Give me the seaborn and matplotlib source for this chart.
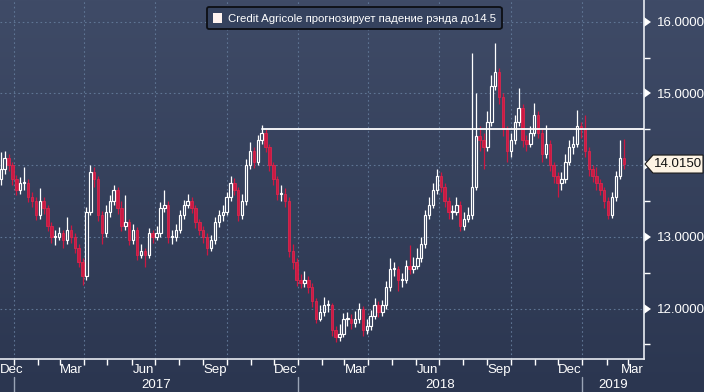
import numpy as np
import pandas as pd
import matplotlib
matplotlib.use("Agg")
import matplotlib.pyplot as plt
import matplotlib.dates as mdates
import seaborn as sns
from matplotlib.patches import Patch, Polygon
from matplotlib.lines import Line2D
from matplotlib.colors import LinearSegmentedColormap
import matplotlib.transforms as mtransforms

# ---------------- data (USD/ZAR, 5-day candles) -------------
start_date = "2016-12-15"
step = "5D"
first_open = 13.80
closes = [
    13.95, 14.10, 14.00, 13.80, 13.65, 13.75, 13.75, 13.55, 13.50, 13.30,
    13.50, 13.40, 13.15, 13.00, 13.00, 13.05, 12.95, 13.10, 13.00, 12.85,
    12.65, 12.45, 13.35, 13.90, 13.80, 13.30, 13.05, 13.35, 13.50, 13.65,
    13.40, 13.15, 13.20, 12.95, 13.10, 12.75, 12.80, 12.75, 13.05, 13.00,
    13.05, 13.40, 13.45, 13.00, 13.00, 13.10, 13.30, 13.45, 13.50, 13.40,
    13.20, 13.10, 13.00, 12.85, 12.95, 13.20, 13.30, 13.35, 13.55, 13.75,
    13.65, 13.30, 13.50, 14.00, 14.20, 14.05, 14.35, 14.45, 14.25, 14.00,
    13.80, 13.60, 13.60, 13.50, 12.80, 12.65, 12.40, 12.35, 12.40, 12.30,
    12.10, 11.85, 11.95, 12.05, 12.05, 11.70, 11.60, 11.65, 11.85, 11.85,
    11.80, 11.85, 12.00, 11.70, 11.75, 11.90, 12.05, 11.95, 12.05, 12.30,
    12.55, 12.55, 12.40, 12.40, 12.60, 12.55, 12.60, 12.70, 12.90, 13.30,
    13.45, 13.65, 13.85, 13.70, 13.50, 13.35, 13.35, 13.45, 13.15, 13.25,
    13.30, 13.70, 14.40, 14.35, 14.25, 14.60, 15.10, 15.30, 14.95, 14.50,
    14.20, 14.35, 14.60, 14.80, 14.35, 14.30, 14.45, 14.70, 14.45, 14.15,
    14.30, 14.00, 13.85, 13.75, 13.80, 14.05, 14.25, 14.30, 14.55, 14.50,
    14.20, 13.95, 13.85, 13.75, 13.65, 13.50, 13.30, 13.55, 13.85, 14.10,
    14.015,
]
highs = [
    14.18, 14.20, 14.16, 14.05, 13.86, 13.84, 13.97, 13.80, 13.62, 13.55,
    13.68, 13.56, 13.45, 13.20, 13.10, 13.14, 13.10, 13.28, 13.16, 13.05,
    12.90, 12.70, 13.42, 14.00, 13.98, 13.85, 13.36, 13.45, 13.58, 13.72,
    13.70, 13.50, 13.58, 13.25, 13.18, 13.14, 12.90, 12.85, 13.12, 13.10,
    13.15, 13.48, 13.65, 13.50, 13.10, 13.18, 13.38, 13.52, 13.60, 13.55,
    13.45, 13.25, 13.15, 13.05, 13.02, 13.28, 13.38, 13.44, 13.63, 13.85,
    13.82, 13.70, 13.60, 14.08, 14.32, 14.25, 14.42, 14.56, 14.50, 14.30,
    14.05, 13.85, 13.72, 13.68, 13.55, 12.90, 12.70, 12.48, 12.52, 12.45,
    12.35, 12.15, 12.05, 12.16, 12.12, 12.08, 11.75, 11.78, 11.94, 11.95,
    11.92, 11.96, 12.08, 12.04, 11.85, 11.98, 12.15, 12.10, 12.12, 12.38,
    12.70, 12.65, 12.60, 12.50, 12.68, 12.88, 12.72, 12.85, 13.00, 13.38,
    13.55, 13.75, 13.95, 13.90, 13.75, 13.55, 13.45, 13.55, 13.50, 13.35,
    13.42, 15.56, 15.00, 14.55, 14.45, 14.75, 15.25, 15.70, 15.35, 15.00,
    14.55, 14.45, 14.70, 15.07, 14.85, 14.42, 14.55, 14.87, 14.75, 14.50,
    14.56, 14.35, 14.05, 13.90, 13.90, 14.15, 14.35, 14.40, 14.77, 14.60,
    14.70, 14.25, 14.00, 13.97, 13.80, 13.70, 13.55, 13.62, 13.92, 14.35,
    14.37,
]
lows = [
    13.72, 13.88, 13.92, 13.72, 13.58, 13.60, 13.66, 13.48, 13.42, 13.24,
    13.25, 13.32, 13.08, 12.92, 12.88, 12.95, 12.85, 12.90, 12.92, 12.78,
    12.58, 12.33, 12.40, 13.30, 13.70, 13.22, 12.90, 13.00, 13.28, 13.45,
    13.32, 13.08, 13.10, 12.88, 12.90, 12.68, 12.70, 12.58, 12.70, 12.92,
    12.95, 13.00, 13.35, 12.92, 12.90, 12.94, 13.05, 13.25, 13.40, 13.33,
    13.12, 13.02, 12.92, 12.75, 12.80, 12.90, 13.14, 13.22, 13.30, 13.50,
    13.58, 13.22, 13.25, 13.45, 13.95, 13.96, 14.00, 14.30, 14.18, 13.92,
    13.72, 13.52, 13.50, 13.42, 12.72, 12.55, 12.32, 12.28, 12.30, 12.22,
    12.02, 11.80, 11.82, 11.90, 11.95, 11.62, 11.53, 11.55, 11.60, 11.76,
    11.72, 11.74, 11.80, 11.62, 11.64, 11.70, 11.86, 11.88, 11.90, 12.00,
    12.25, 12.45, 12.25, 12.30, 12.35, 12.48, 12.50, 12.55, 12.65, 12.85,
    13.25, 13.40, 13.60, 13.62, 13.42, 13.25, 13.25, 13.30, 13.08, 13.10,
    13.20, 13.25, 13.65, 14.20, 13.95, 14.20, 14.55, 15.05, 14.85, 14.40,
    14.04, 14.12, 14.30, 14.55, 14.25, 14.20, 14.25, 14.40, 14.38, 14.05,
    14.10, 13.92, 13.75, 13.55, 13.65, 13.75, 14.00, 14.15, 14.25, 14.38,
    14.12, 13.85, 13.76, 13.65, 13.58, 13.40, 13.25, 13.26, 13.50, 13.80,
    13.95,
]
forecast_level = 14.5
legend_text = "Credit Agricole прогнозирует падение рэнда до14.5"
y_major = [12, 13, 14, 15, 16]
y_minor = [11.5, 12.5, 13.5, 14.5, 15.5]
month_labels = ["Dec", "Mar", "Jun", "Sep", "Dec", "Mar", "Jun", "Sep", "Dec", "Mar"]
month_label_dates = ["2016-12-14", "2017-03-16", "2017-06-16", "2017-09-16",
                     "2017-12-16", "2018-03-16", "2018-06-16", "2018-09-16",
                     "2018-12-16", "2019-03-20"]
year_labels = ["2017", "2018", "2019"]
year_label_dates = ["2017-07-02", "2018-07-02", "2019-02-09"]
year_starts = ["2017-01-01", "2018-01-01", "2019-01-01"]
x_range = ("2016-12-14", "2019-03-21")
y_range = (11.296, 16.303)

assert len(closes) == len(highs) == len(lows)

dates = pd.date_range(start_date, periods=len(closes), freq=step)
opens = [first_open] + closes[:-1]
df = pd.DataFrame({"date": dates, "open": opens, "high": highs,
                   "low": lows, "close": closes})

# ---------------- style ----------------
sns.set_theme(style="dark")
plt.rcParams["font.family"] = ["Liberation Sans", "DejaVu Sans"]

W, H = 704, 392
fig = plt.figure(figsize=(W / 100, H / 100), dpi=100)

# gradient background
bg = fig.add_axes([0, 0, 1, 1], zorder=-10)
cmap = LinearSegmentedColormap.from_list("bg", ["#3f4b67", "#2b3650"])
bg.imshow(np.linspace(0, 1, 256).reshape(-1, 1), aspect="auto", cmap=cmap,
          extent=[0, 1, 0, 1])
bg.set_axis_off()

ax_l, ax_r, ax_t, ax_b = 0, 644, 0, 359
ax = fig.add_axes([ax_l / W, 1 - ax_b / H, (ax_r - ax_l) / W, (ax_b - ax_t) / H])
ax.set_facecolor("none")

red = "#cc1842"
white = "#ffffff"
body_w = pd.Timedelta(step).days * 0.62

up = df["close"] >= df["open"]
xnum = mdates.date2num(df["date"])
# wicks
ax.vlines(xnum[up], df["low"][up], df["high"][up], color=white, lw=0.9, zorder=3)
ax.vlines(xnum[~up], df["low"][~up], df["high"][~up], color=red, lw=0.9, zorder=3)
# bodies
bot = np.minimum(df["open"], df["close"])
hgt = np.maximum(np.abs(df["close"] - df["open"]), 0.012)
ax.bar(xnum[~up], hgt[~up], bottom=bot[~up], width=body_w, color=red,
       edgecolor="#d8284f", linewidth=0.6, zorder=4)
ax.bar(xnum[up], hgt[up], bottom=bot[up], width=body_w, color="#34405c",
       edgecolor=white, linewidth=0.85, zorder=5)

# forecast line from the 2017 peak
peak_idx = int(np.argmax(highs[:100]))
line_df = pd.DataFrame({"date": [dates[peak_idx], pd.Timestamp(x_range[1])],
                        "level": [forecast_level, forecast_level]})
sns.lineplot(data=line_df, x="date", y="level", ax=ax, color=white, lw=1.3,
             zorder=6, legend=False)

ax.set_xlim(mdates.datestr2num(x_range[0]), mdates.datestr2num(x_range[1]))
ax.set_ylim(*y_range)
ax.set_xlabel("")
ax.set_ylabel("")

# grid
ax.xaxis.set_major_locator(mdates.MonthLocator(bymonth=[1, 4, 7, 10]))
ax.xaxis.set_minor_locator(mdates.MonthLocator())
ax.xaxis.set_major_formatter(plt.NullFormatter())
ax.set_yticks(y_major)
ax.set_yticks(y_minor, minor=True)
ax.grid(True, which="major", color="#5f7594", lw=0.8, linestyle=(0, (1.5, 2.5)))
ax.grid(False, which="minor")

for s in ["top", "left"]:
    ax.spines[s].set_visible(False)
for s in ["right", "bottom"]:
    ax.spines[s].set_visible(True)
    ax.spines[s].set_color("#e8ecf2")
    ax.spines[s].set_linewidth(1.2)

last = closes[-1]
ax.yaxis.tick_right()
# the 14.0000 label sits under the last-price tag in the reference
ax.set_yticklabels(["" if abs(v - last) < 0.3 else f"{v:.4f}" for v in y_major])
ax.tick_params(axis="y", which="major", colors=white, labelsize=9.5, pad=9,
               length=0, right=True, left=False)
ax.tick_params(axis="y", which="minor", colors=white, length=4, width=1,
               direction="out", right=True, left=False)
ax.tick_params(axis="x", which="both", colors=white, length=4, width=1,
               direction="out", bottom=True)
for t in ax.yaxis.get_major_ticks():
    t.tick2line.set_marker(9)  # caret right
    t.tick2line.set_markersize(7)
    t.tick2line.set_markeredgewidth(0)
    t.tick2line.set_markerfacecolor(white)
    t.tick2line.set_color(white)

# month / year labels
tr = mtransforms.blended_transform_factory(ax.transData, ax.transAxes)
axh = ax_b - ax_t
for k, (lab, d) in enumerate(zip(month_labels, month_label_dates)):
    if k == 0:
        ha = "left"
    elif k == len(month_labels) - 1:
        ha = "right"
    else:
        ha = "center"
    ax.text(mdates.datestr2num(d), -(370 - ax_b) / axh, lab, transform=tr,
            ha=ha, va="center", color=white, fontsize=9.5)
for lab, d in zip(year_labels, year_label_dates):
    ax.text(mdates.datestr2num(d), -(385 - ax_b) / axh, lab, transform=tr,
            ha="center", va="center", color=white, fontsize=9.5)
for d in year_starts:
    ax.add_line(Line2D([mdates.datestr2num(d)] * 2,
                       [-(377 - ax_b) / axh, -(H - ax_b) / axh],
                       transform=tr, color="#9aa4b6", lw=1, clip_on=False))

# legend
leg = ax.legend(handles=[Patch(facecolor="#fff3ef", edgecolor="none")],
                labels=[legend_text], loc="upper left",
                bbox_to_anchor=(207 / W, 1 - 7 / H), bbox_transform=fig.transFigure,
                frameon=True, fancybox=True, framealpha=1, facecolor="#35425e",
                edgecolor="#0d0f14", fontsize=8.2, labelcolor=white,
                handlelength=0.85, handleheight=0.95, handletextpad=0.5,
                borderpad=0.5, borderaxespad=0)
leg.get_frame().set_linewidth(1.3)
leg.set_zorder(10)

# last price tag
yfrac = (last - y_range[0]) / (y_range[1] - y_range[0])
ypx = ax_b - yfrac * axh
def fx(px):
    return px / W
def fy(py):
    return 1 - py / H
tag = Polygon([(fx(645), fy(ypx)), (fx(653), fy(ypx - 9)), (fx(703), fy(ypx - 9)),
               (fx(703), fy(ypx + 9)), (fx(653), fy(ypx + 9))],
              closed=True, transform=fig.transFigure, facecolor="#fdf3e4",
              edgecolor="#1a1a1a", lw=0.8, zorder=20)
fig.patches.append(tag)
fig.text(fx(654), fy(ypx), f"{last:.4f}", ha="left", va="center",
         color="#111111", fontsize=9.5, zorder=21)

fig.savefig("out.png", dpi=100)
